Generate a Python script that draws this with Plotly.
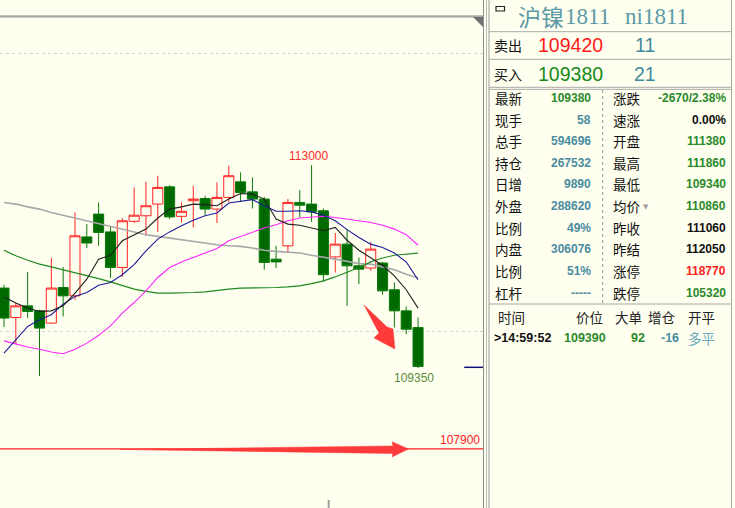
import plotly.graph_objects as go

# ---------------- data ----------------
idx = list(range(36))
opens = [110790,110260,110470,110380,110160,110800,110650,111710,112120,111800,111160,111990,112090,112300,112610,112080,112360,112400,112210,112420,112700,112520,112390,111310,111550,112330,112300,112180,111350,111580,111190,111150,111240,110760,110380,110080]
highs = [110850,110520,111080,110400,111330,111170,112150,111940,112330,111890,112050,112600,112700,112810,112640,112330,112630,112450,112690,112990,112870,112780,112430,111550,112390,112550,113000,112220,111780,111850,111340,111620,111260,110890,110460,110260]
lows = [110090,109780,110250,109210,110150,110280,110580,111510,111550,110970,110990,111960,111730,111800,112030,111970,111880,112100,111960,112340,112340,112220,111120,111150,111430,112060,111980,110900,111070,110470,110860,111100,110670,110080,109960,109350]
closes = [110250,110470,110370,110070,110790,110650,111730,111600,111790,111160,112000,112100,112270,112600,112070,112170,112390,112210,112420,112810,112510,112390,111250,111260,112330,112280,112160,111030,111580,111190,111130,111490,110740,110380,110050,109380]

ma_black = [110630,110520,110430,110370,110380,110470,110700,110950,111310,111380,111640,111740,111850,112050,112210,112250,112300,112290,112270,112390,112490,112480,112390,112030,111940,111920,111870,111820,111880,111650,111470,111330,111200,111010,110760,110430]
ma_blue = [109620,109870,110100,110220,110310,110500,110640,110710,110840,110890,111030,111210,111460,111670,111800,111910,112010,112090,112140,112320,112350,112380,112270,112170,112170,112180,112160,112100,112000,111840,111700,111580,111520,111420,111260,110940]
ma_gray = [112330,112300,112250,112210,112150,112100,112040,111990,111940,111890,111850,111800,111750,111720,111690,111650,111620,111600,111570,111550,111540,111510,111470,111450,111430,111420,111380,111350,111310,111270,111230,111220,111170,111120,111040,110970]
ma_green = [111470,111370,111290,111220,111170,111120,111060,111020,110960,110900,110830,110770,110730,110700,110700,110700,110710,110720,110750,110770,110790,110790,110790,110800,110810,110830,110870,110920,110990,111070,111160,111260,111330,111380,111400,111420]
ma_magenta = [109840,109780,109730,109690,109640,109610,109690,109800,109940,110110,110340,110530,110740,110980,111160,111260,111340,111420,111500,111640,111720,111800,111870,111930,112000,112050,112070,112080,112060,112030,112000,111970,111920,111850,111750,111560]

grid_levels = [110000, 115000]
support_level = 107900
high_label = "113000"
low_label = "109350"

title_cn = "沪镍"
title_code1 = "1811"
title_code2 = "ni1811"
ask_price, ask_vol = "109420", "11"
bid_price, bid_vol = "109380", "21"

left_labels = ["最新", "现手", "总手", "持仓", "日增", "外盘", "比例", "内盘", "比例", "杠杆"]
left_values = ["109380", "58", "594696", "267532", "9890", "288620", "49%", "306076", "51%", "-----"]
left_colors = ["#2b8a2b"] + ["#4a8ca0"] * 9
right_labels = ["涨跌", "速涨", "开盘", "最高", "最低", "均价", "昨收", "昨结", "涨停", "跌停"]
right_values = ["-2670/2.38%", "0.00%", "111380", "111860", "109340", "110860", "111060", "112050", "118770", "105320"]
right_colors = ["#2b8a2b", "#111111", "#2b8a2b", "#2b8a2b", "#2b8a2b", "#2b8a2b", "#111111", "#111111", "#ff2020", "#2b8a2b"]

tick_headers = ["时间", "价位", "大单", "增仓", "开平"]
tick_row = [">14:59:52", "109390", "92", "-16", "多平"]

# ---------------- layout helpers (pixel -> paper) ----------------
W, H = 735, 508
BG = "#fffff0"
def PX(x):
    return x / W
def PY(y):
    return 1 - y / H

CHART_R = 483
X0 = -0.338
X1 = 40.49
Y0, Y1 = 106835, 115970

fig = go.Figure()

fig.add_trace(go.Candlestick(
    x=idx, open=opens, high=highs, low=lows, close=closes,
    increasing=dict(line=dict(color="#ff2222", width=1), fillcolor=BG),
    decreasing=dict(line=dict(color="#0a7a0a", width=1), fillcolor="#006a00"),
    whiskerwidth=0, hoverinfo="skip", showlegend=False,
))

for ys, col, w in [(ma_gray, "#a8a8a8", 1.6), (ma_green, "#1f8a1f", 1.2),
                   (ma_magenta, "#ff22ff", 1.1), (ma_blue, "#1c1c9a", 1.1),
                   (ma_black, "#202020", 1.1)]:
    fig.add_trace(go.Scatter(x=idx, y=ys, mode="lines", line=dict(color=col, width=w),
                             hoverinfo="skip", showlegend=False))

shapes = []
# support line
shapes.append(dict(type="line", xref="x", yref="y", x0=X0, x1=X1, y0=support_level, y1=support_level,
                   line=dict(color="#ff2020", width=1.2)))
# last price marker
shapes.append(dict(type="line", xref="x", yref="y", x0=38.9, x1=X1, y0=closes[-1] - 15, y1=closes[-1] - 15,
                   line=dict(color="#101080", width=1.5)))
# horizontal red arrow (tapered) along the support level
ha = [(9.8, 107887), (32.88, 107950), (32.8, 108027), (34.19, 107896), (32.8, 107752), (32.88, 107815)]
shapes.append(dict(type="path", xref="x", yref="y",
                   path="M " + " L ".join(f"{a},{b}" for a, b in ha) + " Z",
                   fillcolor="#ff3a3a", line=dict(color="#ff3a3a", width=0.5)))
# diagonal red arrow
da = [(30.43, 110486), (32.38, 110090), (32.88, 110054), (33.05, 109694), (31.28, 109892), (31.70, 109982)]
shapes.append(dict(type="path", xref="x", yref="y",
                   path="M " + " L ".join(f"{a},{b}" for a, b in da) + " Z",
                   fillcolor="#ff3a3a", line=dict(color="#ff3a3a", width=0.5)))

# top header strip border
shapes.append(dict(type="line", xref="paper", yref="paper", x0=0, x1=PX(CHART_R), y0=PY(16.2), y1=PY(16.2),
                   line=dict(color="#8a8a8a", width=1.2)))
shapes.append(dict(type="line", xref="paper", yref="paper", x0=0, x1=PX(CHART_R), y0=PY(17.5), y1=PY(17.5),
                   line=dict(color="#c8c8c8", width=1)))
# corner triangle
shapes.append(dict(type="path", xref="paper", yref="paper",
                   path=f"M {PX(473)},{PY(17)} L {PX(483)},{PY(17)} L {PX(483)},{PY(27)} Z",
                   fillcolor="#707070", line=dict(width=0)))
# bottom time tick
shapes.append(dict(type="line", xref="paper", yref="paper", x0=PX(328.7), x1=PX(328.7), y0=PY(500), y1=0,
                   line=dict(color="#a0a0a0", width=2)))
# chart / panel separators
for x, c in [(483.5, "#8e8e8e"), (486.5, "#b8b8b8"), (489, "#9a9a9a"), (731.5, "#a8a8a8")]:
    shapes.append(dict(type="line", xref="paper", yref="paper", x0=PX(x), x1=PX(x), y0=0, y1=1,
                       line=dict(color=c, width=1)))
# panel horizontal lines
for y in [31.7, 59.3, 87.3, 89.3, 304]:
    shapes.append(dict(type="line", xref="paper", yref="paper", x0=PX(489), x1=PX(731.5), y0=PY(y), y1=PY(y),
                       line=dict(color="#a8a8a8", width=1)))
# dashed separator in stats table
shapes.append(dict(type="line", xref="paper", yref="paper", x0=PX(602.7), x1=PX(602.7), y0=PY(90), y1=PY(303),
                   line=dict(color="#9a9a9a", width=1, dash="dot")))
# link icon
shapes.append(dict(type="rect", xref="paper", yref="paper", x0=PX(496), x1=PX(504.5), y0=PY(11), y1=PY(6.5),
                   line=dict(color="#222222", width=1.2), fillcolor=BG))

ann = []
NUMF = "Liberation Sans, Arial, sans-serif"
CNF = "Noto Sans CJK SC, sans-serif"
SERIF = "Liberation Serif, serif"

# chart labels
ann.append(dict(x=26, y=highs[26], xref="x", yref="y", text=high_label, showarrow=False,
                xanchor="center", yanchor="bottom", xshift=-3, yshift=0,
                font=dict(family=NUMF, size=12, color="#ff2a2a")))
ann.append(dict(x=35, y=lows[35], xref="x", yref="y", text=low_label, showarrow=False,
                xanchor="center", yanchor="top", xshift=-4, yshift=-1,
                font=dict(family=NUMF, size=12, color="#5b8c3a")))
ann.append(dict(x=PX(482), y=support_level, xref="paper", yref="y", text=f"{support_level}", showarrow=False,
                xanchor="right", yanchor="bottom", yshift=0,
                font=dict(family=NUMF, size=12, color="#ff2020")))

# panel title
TEAL = "#5b9aa6"
ann.append(dict(x=PX(516), y=PY(16), xref="paper", yref="paper", text=title_cn, showarrow=False,
                xanchor="left", yanchor="middle", font=dict(family=CNF, size=23, color=TEAL)))
ann.append(dict(x=PX(563), y=PY(16.5), xref="paper", yref="paper", text=title_code1, showarrow=False,
                xanchor="left", yanchor="middle", font=dict(family=SERIF, size=23, color=TEAL)))
ann.append(dict(x=PX(623), y=PY(16.5), xref="paper", yref="paper", text=title_code2, showarrow=False,
                xanchor="left", yanchor="middle", font=dict(family=SERIF, size=23, color=TEAL)))

# bid / ask rows
for lbl, price, vol, pcol, yy in [("卖出", ask_price, ask_vol, "#ff1a1a", 45.5), ("买入", bid_price, bid_vol, "#178a17", 74)]:
    ann.append(dict(x=PX(492), y=PY(yy), xref="paper", yref="paper", text=lbl, showarrow=False,
                    xanchor="left", yanchor="middle", font=dict(family=CNF, size=14, color="#111111")))
    ann.append(dict(x=PX(570), y=PY(yy), xref="paper", yref="paper", text=price, showarrow=False,
                    xanchor="center", yanchor="middle", font=dict(family=NUMF, size=19.5, color=pcol)))
    ann.append(dict(x=PX(645), y=PY(yy), xref="paper", yref="paper", text=vol, showarrow=False,
                    xanchor="center", yanchor="middle", font=dict(family=NUMF, size=19.5, color="#3f8a9a")))

# stats table
row_y = [98, 119.5, 141, 162.5, 184, 206, 227.5, 249, 271, 292.5]
for i, yy in enumerate(row_y):
    ann.append(dict(x=PX(493), y=PY(yy), xref="paper", yref="paper", text=left_labels[i], showarrow=False,
                    xanchor="left", yanchor="middle", font=dict(family=CNF, size=13.5, color="#111111")))
    ann.append(dict(x=PX(592.5), y=PY(yy), xref="paper", yref="paper", text=f"<b>{left_values[i]}</b>", showarrow=False,
                    xanchor="right", yanchor="middle", font=dict(family=NUMF, size=12, color=left_colors[i])))
    ann.append(dict(x=PX(611), y=PY(yy), xref="paper", yref="paper", text=right_labels[i], showarrow=False,
                    xanchor="left", yanchor="middle", font=dict(family=CNF, size=13.5, color="#111111")))
    ann.append(dict(x=PX(727.5), y=PY(yy), xref="paper", yref="paper", text=f"<b>{right_values[i]}</b>", showarrow=False,
                    xanchor="right", yanchor="middle", font=dict(family=NUMF, size=12, color=right_colors[i])))
ann.append(dict(x=PX(641), y=PY(row_y[5] + 1), xref="paper", yref="paper", text="▼", showarrow=False,
                xanchor="left", yanchor="middle", font=dict(family="DejaVu Sans", size=7, color="#a0a0a0")))

# tick table
hdr_x = [(496, "left"), (589, "center"), (628, "center"), (662, "center"), (701, "center")]
for (hx, anc), t in zip(hdr_x, tick_headers):
    ann.append(dict(x=PX(hx), y=PY(317), xref="paper", yref="paper", text=t, showarrow=False,
                    xanchor=anc, yanchor="middle", font=dict(family=CNF, size=13.5, color="#222222")))
row_x = [(492, "left", "#111111", True), (585, "center", "#2b8a2b", True), (638, "center", "#2b8a2b", True),
         (670, "center", "#4a8ca0", True), (701, "center", "#6aaab8", False)]
for (rx, anc, col, bold), t in zip(row_x, tick_row):
    fam = CNF if not bold else NUMF
    ann.append(dict(x=PX(rx), y=PY(337.5), xref="paper", yref="paper", text=(f"<b>{t}</b>" if bold else t),
                    showarrow=False, xanchor=anc, yanchor="middle",
                    font=dict(family=fam, size=(12.5 if bold else 13.5), color=col)))

fig.update_layout(
    width=W, height=H, margin=dict(l=0, r=0, t=0, b=0),
    paper_bgcolor=BG, plot_bgcolor=BG,
    showlegend=False, boxgap=0.15, boxgroupgap=0,
    shapes=shapes, annotations=ann,
    xaxis=dict(domain=[0, PX(CHART_R)], range=[X0, X1], showticklabels=False, showgrid=False,
               zeroline=False, showline=False, rangeslider=dict(visible=False), fixedrange=True),
    yaxis=dict(domain=[0, 1], range=[Y0, Y1], showticklabels=False, tickvals=grid_levels,
               showgrid=True, gridcolor="#d2d2d2", griddash="dot", gridwidth=1,
               zeroline=False, showline=False, fixedrange=True),
    hovermode=False,
)

fig.write_html("out.html", config={"displayModeBar": False},
               post_script="document.body.style.margin='0px';document.body.style.overflow='hidden';document.body.style.background='#fffff0';")
